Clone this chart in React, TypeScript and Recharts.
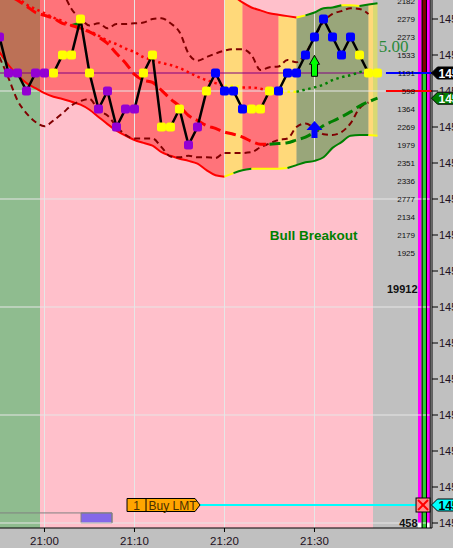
import React from 'react';
import {
  Area,
  ComposedChart,
  Line,
  ReferenceArea,
  ReferenceDot,
  ReferenceLine,
  XAxis,
  YAxis
} from 'recharts';

// minutes after 21:00, one bar a minute
const minutes = [
  -5, -4, -3, -2, -1, 0, 1, 2, 3, 4, 5, 6, 7, 8, 9, 10, 11, 12, 13, 14, 15, 16, 17, 18, 19, 20, 21,
  22, 23, 24, 25, 26, 27, 28, 29, 30, 31, 32, 33, 34, 35, 36, 37
];
const closes = [
  1458.25, 1457.75, 1457.75, 1457.5, 1457.75, 1457.75, 1457.75, 1458, 1458, 1458.5, 1457.75, 1457.25,
  1457.5, 1457, 1457.25, 1457.25, 1457.75, 1458, 1457, 1457, 1457.25, 1456.75, 1457, 1457.5, 1457.75,
  1457.5, 1457.5, 1457.25, 1457.25, 1457.25, 1457.5, 1457.5, 1457.75, 1457.75, 1458, 1458.25, 1458.5,
  1458.25, 1458, 1458.25, 1458, 1457.75, 1457.75
];
const closeColors = [
  'p', 'p', 'p', 'p', 'p', 'p', 'y', 'y', 'y', 'y', 'y', 'p', 'p', 'p', 'p', 'p', 'y', 'y', 'y', 'y', 'y',
  'p', 'p', 'y', 'b', 'b', 'b', 'b', 'y', 'y', 'y', 'b', 'b', 'b', 'b', 'b', 'b', 'b', 'b', 'b', 'y', 'y', 'y'
];
const cloudUpper = [
  1459.6, 1459.6, 1459.6, 1459.6, 1459.6, 1459.6, 1459.6, 1459.6, 1459.6, 1459.6, 1459.6, 1459.6, 1459.6,
  1459.5, 1459.5, 1459.5, 1459.4, 1459.4, 1459.3, 1459.3, 1459.2, 1459.2, 1459.1, 1459.0, 1459.0, 1458.9,
  1458.82, 1458.73, 1458.66, 1458.62, 1458.58, 1458.56, 1458.54, 1458.52, 1458.55, 1458.59, 1458.65,
  1458.66, 1458.69, 1458.69, 1458.68, 1458.7, 1458.72
];
const cloudLower = [
  1458.04, 1457.86, 1457.72, 1457.61, 1457.54, 1457.47, 1457.42, 1457.39, 1457.35, 1457.31, 1457.24,
  1457.14, 1457.04, 1456.95, 1456.88, 1456.82, 1456.78, 1456.74, 1456.65, 1456.6, 1456.56, 1456.53,
  1456.49, 1456.4, 1456.33, 1456.31, 1456.36, 1456.4, 1456.42, 1456.42, 1456.42, 1456.42, 1456.43,
  1456.47, 1456.51, 1456.53, 1456.58, 1456.71, 1456.79, 1456.88, 1456.89, 1456.89, 1456.88
];
const midLine = [
  1458.9, 1458.83, 1458.76, 1458.68, 1458.59, 1458.55, 1458.51, 1458.44, 1458.41, 1458.37, 1458.32, 1458.25,
  1458.16, 1458.02, 1457.89, 1457.73, 1457.65, 1457.62, 1457.51, 1457.39, 1457.29, 1457.16, 1457.09, 1457.02,
  1456.98, 1456.93, 1456.9, 1456.86, 1456.8, 1456.76, 1456.76, 1456.77, 1456.78, 1456.82, 1456.86, 1456.93,
  1457.02, 1457.08, 1457.14, 1457.21, 1457.29, 1457.35, 1457.4
];
const slowLine = [
  1458.87, 1458.83, 1458.79, 1458.7, 1458.64, 1458.58, 1458.52, 1458.47, 1458.41, 1458.37, 1458.33, 1458.27,
  1458.2, 1458.15, 1458.09, 1458.04, 1457.97, 1457.93, 1457.89, 1457.86, 1457.82, 1457.76, 1457.7, 1457.65,
  1457.61, 1457.57, 1457.57, 1457.55, 1457.55, 1457.53, 1457.5, 1457.49, 1457.49, 1457.49, 1457.52, 1457.55,
  1457.59, 1457.65, 1457.69, 1457.72, 1457.76, 1457.79, null
];
const bandUpper = [
  null, null, null, null, null, null, null, 1458.9, 1458.64, 1458.51, 1458.41, 1458.44, 1458.37, 1458.43,
  1458.43, 1458.44, 1458.45, 1458.5, 1458.51, 1458.44, 1458.32, 1458.02, 1457.92, 1457.97, 1458.02, 1458.06,
  1458.08, 1458.08, 1458.0, 1457.79, 1457.83, 1457.84, 1457.93, 1457.9, 1458.02, 1458.25, 1458.46, 1458.57,
  1458.61, 1458.65, 1458.64, 1458.57, null
];
const bandLower = [
  1457.97, 1457.68, 1457.37, 1457.19, 1457.07, 1457.01, 1457.09, 1457.19, 1457.3, 1457.36, 1457.39, 1457.23,
  1457.16, 1457.01, 1456.89, 1456.84, 1456.84, 1456.84, 1456.72, 1456.59, 1456.58, 1456.6, 1456.58, 1456.58,
  1456.57, 1456.64, 1456.64, 1456.64, 1456.65, 1456.72, 1456.77, 1456.82, 1456.84, 1457.0, 1457.05, 1456.98,
  1456.9, 1456.89, 1456.93, 1457.05, 1457.26, 1457.34, null
];

const timeTicks = [0, 10, 20, 30];
const priceTicks = [
  1458.5, 1458, 1457.5, 1457, 1456.5, 1456, 1455.5, 1455, 1454.5, 1454, 1453.5, 1453, 1452.5, 1452, 1451.5
];
const gridPrices = [1457.5, 1456, 1454.5, 1453, 1451.5];
const volumePrices = [
  1458.75, 1458.5, 1458.25, 1458, 1457.75, 1457.5, 1457.25, 1457, 1456.75, 1456.5, 1456.25, 1456, 1455.75,
  1455.5, 1455.25
];
const volumes = [
  '2182', '2279', '2273', '1533', '1191', '598', '1364', '2269', '1979', '2351', '2336', '2777', '2134',
  '2179', '1925'
];

const squareFill = { p: '#9400D3', y: '#FFFF00', b: '#0000FF' };
const RED = '#FF0000';
const YELLOW = '#FFFF00';
const GREEN = '#008000';
const GRID = '#E6E6E6';

const rows = minutes.map((t, i) => ({
  t,
  close: closes[i],
  tone: closeColors[i],
  upper: cloudUpper[i],
  lower: cloudLower[i],
  mid: midLine[i],
  slow: slowLine[i],
  bandUp: bandUpper[i],
  bandLow: bandLower[i]
}));

const X_MIN = -4.944;
const X_MAX = 43.056;
const Y_MAX = 1458.7639;
const Y_MIN = 1451.4306;

const cloud = (from, to) => (r) => (r.t >= from && r.t <= to ? [r.lower, r.upper] : [null, null]);
const piece = (key, from, to) => (r) => (r.t >= from && r.t <= to ? r[key] : null);

const cloudZones = [
  [-5, 20, RED],
  [20, 22, YELLOW],
  [22, 26, RED],
  [26, 28, YELLOW],
  [28, 36, GREEN],
  [36, 37, YELLOW]
];
const lowerZones = [
  [-5, 20, RED],
  [20, 21, YELLOW],
  [21, 23, GREEN],
  [23, 27, YELLOW],
  [27, 36, GREEN],
  [36, 37, YELLOW]
];
const upperZones = [
  [-5, 28, RED],
  [28, 29, YELLOW],
  [29, 33, GREEN],
  [33, 35, YELLOW],
  [35, 37, GREEN]
];
const midZones = [
  [-5, 25, RED],
  [25, 37, GREEN]
];
const slowZones = [
  [-5, 20, RED],
  [20, 22, YELLOW],
  [22, 25, RED],
  [25, 28, YELLOW],
  [28, 36, GREEN]
];

function Square({ cx, cy, payload }: any) {
  return <rect x={cx - 4.5} y={cy - 4.5} width={9} height={9} rx={2.5} fill={squareFill[payload.tone]} />;
}

const arrow = (head, shaft, half, fill) => ({ cx, cy }: any) => (
  <path
    d={`M${cx} ${cy - half} L${cx + head} ${cy - half + 9} L${cx + shaft} ${cy - half + 9} L${cx + shaft} ${cy + half} L${cx - shaft} ${cy + half} L${cx - shaft} ${cy - half + 9} L${cx - head} ${cy - half + 9} Z`}
    fill={fill}
    stroke={fill === '#00FF00' ? '#000' : 'none'}
  />
);

const priceTag = (fill, color) => ({ cx, cy }: any) => (
  <g>
    <path d={`M${cx} ${cy} L${cx + 6} ${cy - 6} L${cx + 24} ${cy - 6} L${cx + 24} ${cy + 6} L${cx + 6} ${cy + 6} Z`} fill={fill} stroke="#000" />
    <text x={cx + 7} y={cy + 4.5} fontSize={12} fontWeight={700} fontFamily="Liberation Sans" fill={color}>
      1457.75
    </text>
  </g>
);

function OrderTag({ cx, cy }: any) {
  return (
    <g fontFamily="Liberation Sans" fontSize={12} fill="#4A3000">
      <path d={`M${cx - 73} ${cy - 6.5} H${cx - 5} L${cx} ${cy} L${cx - 5} ${cy + 6.5} H${cx - 73} Z`} fill="#FFA500" stroke="#000" />
      <line x1={cx - 54} x2={cx - 54} y1={cy - 6.5} y2={cy + 6.5} stroke="#000" />
      <text x={cx - 63.5} y={cy + 4.5} textAnchor="middle">1</text>
      <text x={cx - 51.5} y={cy + 4.5}>Buy LMT</text>
    </g>
  );
}

function CancelBox({ cx, cy }: any) {
  return (
    <g>
      <rect x={cx - 7} y={cy - 7} width={14} height={14} fill="#FF8C8C" stroke="#000" />
      <path d={`M${cx - 5} ${cy - 5} L${cx + 5} ${cy + 5} M${cx + 5} ${cy - 5} L${cx - 5} ${cy + 5}`} stroke="#FF0000" strokeWidth={2} />
    </g>
  );
}

const note = (value, size, weight, color, family, anchor = 'end') => ({ cx, cy }: any) => (
  <text x={cx} y={cy} dy="0.35em" fontSize={size} fontWeight={weight} fontFamily={family} fill={color} textAnchor={anchor}>
    {value}
  </text>
);

export default function App() {
  return (
    <div style={{ position: 'absolute', left: 0, top: 0, width: 453, height: 548, overflow: 'hidden', background: '#C0C0C0' }}>
      <ComposedChart width={453} height={548} data={rows} margin={{ top: 0, right: 0, bottom: 0, left: 0 }}>
        <XAxis
          dataKey="t"
          type="number"
          domain={[X_MIN, X_MAX]}
          allowDataOverflow
          ticks={timeTicks}
          interval={0}
          height={20}
          tickSize={4}
          tickMargin={5}
          stroke="#000"
          tick={{ fill: '#201020', fontSize: 11.5, fontFamily: 'Liberation Sans' }}
          tickFormatter={(t) => `21:${t === 0 ? '00' : t}`}
        />
        <YAxis
          orientation="right"
          type="number"
          domain={[Y_MIN, Y_MAX]}
          allowDataOverflow
          ticks={priceTicks}
          interval={0}
          width={21}
          tickSize={6}
          tickMargin={1}
          stroke="#000"
          tick={{ fill: '#201020', fontSize: 11, fontFamily: 'Liberation Sans', textAnchor: 'start' }}
        />

        <ReferenceArea x1={X_MIN} x2={36.5} y1={Y_MIN} y2={Y_MAX} fill="#FFC0CB" fillOpacity={1} stroke="none" />
        <ReferenceArea x1={X_MIN} x2={-0.5} y1={Y_MIN} y2={Y_MAX} fill="#8FBC8F" fillOpacity={1} stroke="none" />
        {timeTicks.map((t) => (
          <ReferenceLine key={t} x={t} stroke={GRID} />
        ))}
        {gridPrices.map((p) => (
          <ReferenceLine key={p} y={p} stroke={GRID} />
        ))}

        {cloudZones.map(([from, to, color]) => (
          <Area
            key={`${from}`}
            dataKey={cloud(from, to)}
            fill={color}
            fillOpacity={0.4}
            stroke="none"
            type="monotone"
            dot={false}
            activeDot={false}
            isAnimationActive={false}
          />
        ))}

        <ReferenceLine segment={[{ x: X_MIN, y: 1457.75 }, { x: 36, y: 1457.75 }]} stroke="#800080" />
        <ReferenceLine segment={[{ x: 3.05, y: 1458.41 }, { x: 3.95, y: 1458.44 }]} stroke={GREEN} strokeWidth={3} />

        {lowerZones.map(([from, to, color]) => (
          <Line key={`l${from}`} dataKey={piece('lower', from, to)} stroke={color} strokeWidth={2} dot={false} activeDot={false} type="monotone" isAnimationActive={false} />
        ))}
        {upperZones.map(([from, to, color]) => (
          <Line key={`u${from}`} dataKey={piece('upper', from, to)} stroke={color} strokeWidth={2} dot={false} activeDot={false} type="monotone" isAnimationActive={false} />
        ))}
        <Line dataKey="bandUp" stroke="#800000" strokeWidth={2} strokeDasharray="6 4" dot={false} activeDot={false} type="monotone" isAnimationActive={false} />
        <Line dataKey="bandLow" stroke="#800000" strokeWidth={2} strokeDasharray="6 4" dot={false} activeDot={false} type="monotone" isAnimationActive={false} />
        {slowZones.map(([from, to, color]) => (
          <Line key={`s${from}`} dataKey={piece('slow', from, to)} stroke={color} strokeWidth={2.5} strokeDasharray="2.5 3.5" dot={false} activeDot={false} type="monotone" isAnimationActive={false} />
        ))}
        {midZones.map(([from, to, color]) => (
          <Line key={`m${from}`} dataKey={piece('mid', from, to)} stroke={color} strokeWidth={3} strokeDasharray="11 5" dot={false} activeDot={false} type="monotone" isAnimationActive={false} />
        ))}

        <Line dataKey="close" stroke="#000" strokeWidth={2.5} dot={(p: any) => <Square key={p.index} {...p} />} activeDot={false} isAnimationActive={false} />

        <ReferenceLine segment={[{ x: 17.28, y: 1451.75 }, { x: 41.5, y: 1451.75 }]} stroke="#00FFFF" strokeWidth={2} />

        <ReferenceLine segment={[{ x: X_MIN, y: 1451.64 }, { x: 7.5, y: 1451.64 }]} stroke="#808080" />
        <ReferenceLine segment={[{ x: 7.5, y: 1451.64 }, { x: 7.5, y: 1451.5 }]} stroke="#808080" />
        <ReferenceArea x1={4.06} x2={7.5} y1={1451.5} y2={1451.64} fill="#8468E8" fillOpacity={1} stroke="#808080" />

        <ReferenceArea x1={41.5} x2={42.97} y1={Y_MIN} y2={Y_MAX} fill="#FFFFFF" fillOpacity={1} stroke="none" />
        <ReferenceArea x1={41.5} x2={41.91} y1={1451.5} y2={Y_MAX} fill="#FF00FF" fillOpacity={1} stroke="none" />
        <ReferenceArea x1={42.5} x2={42.83} y1={1451.5} y2={Y_MAX} fill="#FF00FF" fillOpacity={1} stroke="none" />
        <ReferenceArea x1={41.91} x2={42.5} y1={Y_MIN} y2={1457.75} fill="#32CD32" fillOpacity={1} stroke="none" />
        <ReferenceArea x1={41.91} x2={42.5} y1={1457.75} y2={Y_MAX} fill="#800000" fillOpacity={1} stroke="none" />
        <ReferenceLine x={41.96} stroke="#000" />
        <ReferenceLine x={42.44} stroke="#000" />
        <ReferenceLine x={42.86} stroke="#000" />

        <ReferenceLine segment={[{ x: 37.94, y: 1457.75 }, { x: X_MAX, y: 1457.75 }]} stroke="#0000FF" strokeWidth={2} />
        <ReferenceLine segment={[{ x: 37.94, y: 1457.5 }, { x: X_MAX, y: 1457.5 }]} stroke="#FF0000" strokeWidth={2} />

        {volumePrices.map((p, i) => (
          <ReferenceDot key={p} x={41.17} y={p} r={0} shape={note(volumes[i], 8, 400, '#101010', 'Liberation Sans')} />
        ))}
        <ReferenceDot x={41.45} y={1454.75} r={0} shape={note('19912', 11, 700, '#101010', 'Liberation Sans')} />
        <ReferenceDot x={41.45} y={1451.5} r={0} shape={note('458', 11, 700, '#101010', 'Liberation Sans')} />
        <ReferenceDot x={38.8} y={1458.12} r={0} shape={note('5.00', 17, 400, '#2A8A3A', 'Liberation Serif', 'middle')} />
        <ReferenceDot x={29.9} y={1455.49} r={0} shape={note('Bull Breakout', 13.5, 700, GREEN, 'Liberation Sans', 'middle')} />

        <ReferenceDot x={30} y={1457.85} r={0} shape={arrow(5, 3, 10.5, '#00FF00')} />
        <ReferenceDot x={30} y={1456.965} r={0} shape={arrow(8, 3, 8.5, '#0000FF')} />

        <ReferenceDot x={17.28} y={1451.75} r={0} shape={OrderTag} />
        <ReferenceDot x={42.06} y={1451.75} r={0} shape={CancelBox} />
        <ReferenceDot x={43.0} y={1457.75} r={0} ifOverflow="visible" shape={priceTag('#000000', '#FFFFFF')} />
        <ReferenceDot x={43.0} y={1457.4} r={0} ifOverflow="visible" shape={priceTag('#008000', '#FFFFFF')} />
        <ReferenceDot x={43.0} y={1451.75} r={0} ifOverflow="visible" shape={priceTag('#00FFFF', '#000000')} />
      </ComposedChart>
    </div>
  );
}
